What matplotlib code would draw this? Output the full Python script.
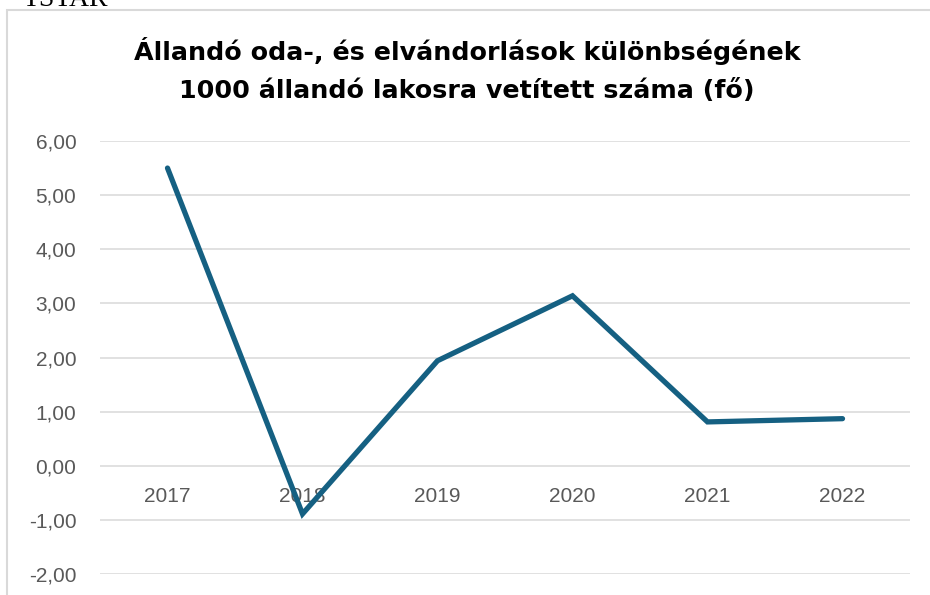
import matplotlib
matplotlib.use("Agg")
import matplotlib.pyplot as plt
from matplotlib.patches import Rectangle

years = ["2017", "2018", "2019", "2020", "2021", "2022"]
values = [5.50, -0.89, 1.94, 3.14, 0.81, 0.87]
yticks = [-2, -1, 0, 1, 2, 3, 4, 5, 6]
ytick_labels = ["-2,00", "-1,00", "0,00", "1,00", "2,00", "3,00", "4,00", "5,00", "6,00"]
title = "Állandó oda-, és elvándorlások különbségének\n1000 állandó lakosra vetített száma (fő)"

W, H = 930, 595
fig = plt.figure(figsize=(W / 100, H / 100), dpi=100)

# chart frame (cut at right/bottom)
fig.patches.append(Rectangle((7 / W, -0.1), 1.2, 1.1 - 10 / H, transform=fig.transFigure,
                             fill=False, edgecolor="#d9d9d9", linewidth=1.5))
fig.text(22 / W, 1 - 6 / H, "TSTAR", family="Liberation Serif", fontsize=20,
         ha="left", va="baseline", color="#000000")

ax = fig.add_axes([100 / W, 1 - 574 / H, 810 / W, (574 - 141) / H])
x = list(range(len(years)))
ax.plot(x, values, color="#156082", linewidth=3.8, solid_capstyle="round",
        solid_joinstyle="miter", zorder=3)
ax.set_xlim(-0.5, len(years) - 0.5)
ax.set_ylim(-2, 6)
ax.set_yticks(yticks)
ax.set_yticklabels(ytick_labels)
ax.grid(axis="y", color="#d9d9d9", linewidth=1.1, zorder=0)
for s in ax.spines.values():
    s.set_visible(False)
ax.spines["bottom"].set_position(("data", 0))
ax.set_xticks(x)
ax.set_xticklabels(years)
ax.tick_params(axis="x", length=0, pad=15, labelsize=15, labelcolor="#595959")
ax.tick_params(axis="y", length=0, pad=17, labelsize=15, labelcolor="#595959")
for lab in ax.get_xticklabels() + ax.get_yticklabels():
    lab.set_family("Liberation Sans")

fig.text(467 / W, 1 - 70 / H, title, ha="center", va="center", fontsize=18.3,
         fontweight="bold", family="DejaVu Sans", linespacing=1.75, color="#000000")

fig.savefig("out.png", dpi=100)
